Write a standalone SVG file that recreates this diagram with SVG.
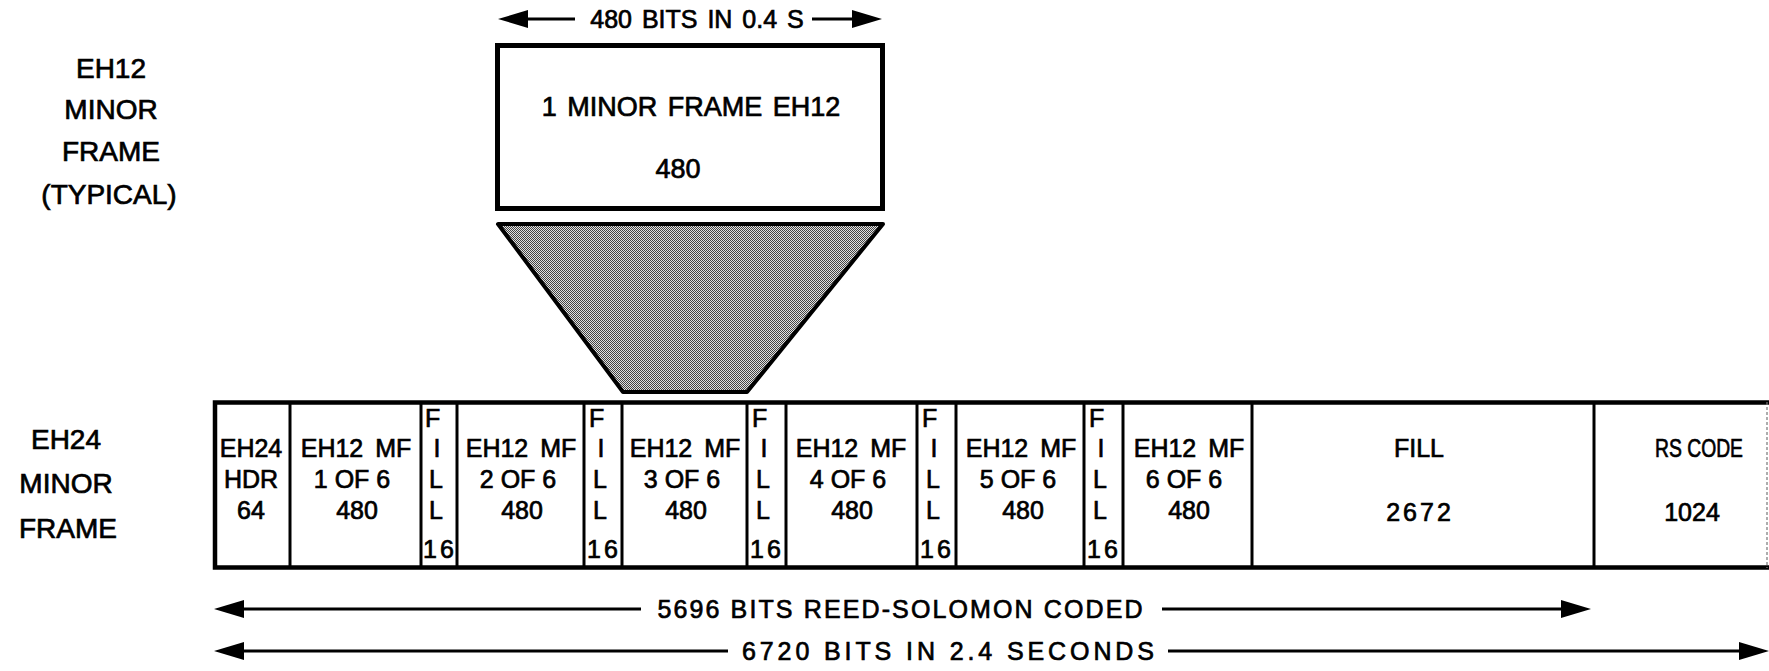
<svg xmlns="http://www.w3.org/2000/svg" width="1769" height="671" viewBox="0 0 1769 671">
<style>
text{font-family:"Liberation Sans",Arial,Helvetica,sans-serif;fill:#000;stroke:#000;stroke-width:0.7}
.c{font-size:25px;text-anchor:middle}
.s{font-size:25px;text-anchor:start}
.lbl{font-size:28px;text-anchor:middle}
.big{font-size:27px;text-anchor:middle}
.dim{font-size:25px;text-anchor:middle}
.mf{word-spacing:5px}
.div{stroke:#000;stroke-width:3;fill:none}
.frame{stroke:#000;stroke-width:4.5;fill:none}
.ln{stroke:#000;stroke-width:3;fill:none}
</style>
<defs>
<marker id="ah" viewBox="0 0 30 18" refX="6" refY="9" markerWidth="30" markerHeight="18" markerUnits="userSpaceOnUse" orient="auto-start-reverse">
<path d="M0,0 L30,9 L0,18 Z" fill="#000"/>
</marker>
<pattern id="dots" width="2" height="2" patternUnits="userSpaceOnUse">
<rect width="2" height="2" fill="#e2e2e2"/>
<rect x="0" y="0" width="1" height="1" fill="#454545"/>
<rect x="1" y="1" width="1" height="1" fill="#454545"/>
</pattern>
</defs>
<rect width="1769" height="671" fill="#fff"/>

<g id="labels">
<text class="lbl" x="111" y="78">EH12</text>
<text class="lbl" x="111" y="119">MINOR</text>
<text class="lbl" x="111" y="161">FRAME</text>
<text class="lbl" x="109" y="204">(TYPICAL)</text>
<text class="lbl" x="66" y="449">EH24</text>
<text class="lbl" x="66" y="493">MINOR</text>
<text class="lbl" x="68" y="538">FRAME</text>
</g>

<g id="eh12-minor-frame">
<rect x="497.5" y="45.5" width="385" height="163" fill="#fff" stroke="#000" stroke-width="5"/>
<text class="big" x="691" y="116" word-spacing="3">1 MINOR FRAME EH12</text>
<text class="big" x="678" y="178">480</text>
</g>

<g id="expansion">
<polygon points="498,224 883,224 747,392 623,392" fill="url(#dots)" stroke="#000" stroke-width="4" stroke-linejoin="round"/>
</g>

<g id="eh24-minor-frame">
<path class="frame" d="M1769,402.5 H215 V567.5 H1769"/>
<line x1="1767" y1="402" x2="1767" y2="568" stroke="#777" stroke-width="1.2" stroke-dasharray="3 2"/>
<g id="cell-hdr">
<line class="div" x1="290" y1="402" x2="290" y2="567"/>
<text class="c" x="251" y="457">EH24</text>
<text class="c" x="251" y="488">HDR</text>
<text class="c" x="251" y="519">64</text>
</g>
<g id="cell-mf1">
<line class="div" x1="421" y1="402" x2="421" y2="567"/>
<text class="c mf" x="356" y="457">EH12 MF</text>
<text class="c" x="352" y="488">1 OF 6</text>
<text class="c" x="357" y="519">480</text>
</g>
<g id="cell-fill1">
<line class="div" x1="457" y1="402" x2="457" y2="567"/>
<text class="s" x="425" y="427">F</text>
<text class="c" x="437" y="457">I</text>
<text class="s" x="429" y="488">L</text>
<text class="s" x="429" y="519">L</text>
<text class="s" x="423" y="558" letter-spacing="3">16</text>
</g>
<g id="cell-mf2">
<line class="div" x1="584" y1="402" x2="584" y2="567"/>
<text class="c mf" x="521" y="457">EH12 MF</text>
<text class="c" x="518" y="488">2 OF 6</text>
<text class="c" x="522" y="519">480</text>
</g>
<g id="cell-fill2">
<line class="div" x1="622" y1="402" x2="622" y2="567"/>
<text class="s" x="589" y="427">F</text>
<text class="c" x="601" y="457">I</text>
<text class="s" x="593" y="488">L</text>
<text class="s" x="593" y="519">L</text>
<text class="s" x="587" y="558" letter-spacing="3">16</text>
</g>
<g id="cell-mf3">
<line class="div" x1="747" y1="402" x2="747" y2="567"/>
<text class="c mf" x="685" y="457">EH12 MF</text>
<text class="c" x="682" y="488">3 OF 6</text>
<text class="c" x="686" y="519">480</text>
</g>
<g id="cell-fill3">
<line class="div" x1="786" y1="402" x2="786" y2="567"/>
<text class="s" x="752" y="427">F</text>
<text class="c" x="764" y="457">I</text>
<text class="s" x="756" y="488">L</text>
<text class="s" x="756" y="519">L</text>
<text class="s" x="750" y="558" letter-spacing="3">16</text>
</g>
<g id="cell-mf4">
<line class="div" x1="917" y1="402" x2="917" y2="567"/>
<text class="c mf" x="851" y="457">EH12 MF</text>
<text class="c" x="848" y="488">4 OF 6</text>
<text class="c" x="852" y="519">480</text>
</g>
<g id="cell-fill4">
<line class="div" x1="956" y1="402" x2="956" y2="567"/>
<text class="s" x="922" y="427">F</text>
<text class="c" x="934" y="457">I</text>
<text class="s" x="926" y="488">L</text>
<text class="s" x="926" y="519">L</text>
<text class="s" x="920" y="558" letter-spacing="3">16</text>
</g>
<g id="cell-mf5">
<line class="div" x1="1084" y1="402" x2="1084" y2="567"/>
<text class="c mf" x="1021" y="457">EH12 MF</text>
<text class="c" x="1018" y="488">5 OF 6</text>
<text class="c" x="1023" y="519">480</text>
</g>
<g id="cell-fill5">
<line class="div" x1="1123" y1="402" x2="1123" y2="567"/>
<text class="s" x="1089" y="427">F</text>
<text class="c" x="1101" y="457">I</text>
<text class="s" x="1093" y="488">L</text>
<text class="s" x="1093" y="519">L</text>
<text class="s" x="1087" y="558" letter-spacing="3">16</text>
</g>
<g id="cell-mf6">
<line class="div" x1="1252" y1="402" x2="1252" y2="567"/>
<text class="c mf" x="1189" y="457">EH12 MF</text>
<text class="c" x="1184" y="488">6 OF 6</text>
<text class="c" x="1189" y="519">480</text>
</g>
<g id="cell-fill">
<line class="div" x1="1594" y1="402" x2="1594" y2="567"/>
<text class="c" x="1419" y="457">FILL</text>
<text class="c" x="1420" y="521" letter-spacing="3">2672</text>
</g>
<g id="cell-rs">
<text class="c" x="1699" y="457" textLength="88" lengthAdjust="spacingAndGlyphs">RS CODE</text>
<text class="c" x="1692" y="521">1024</text>
</g>
</g>

<g id="connectors">
<line class="ln" x1="522" y1="19" x2="575" y2="19" marker-start="url(#ah)"/>
<line class="ln" x1="812" y1="19" x2="858" y2="19" marker-end="url(#ah)"/>
<text class="dim" x="697" y="28" word-spacing="3">480 BITS IN 0.4 S</text>

<line class="ln" x1="238" y1="609" x2="641" y2="609" marker-start="url(#ah)"/>
<line class="ln" x1="1162" y1="609" x2="1567" y2="609" marker-end="url(#ah)"/>
<text class="dim" x="900" y="618" textLength="485">5696 BITS REED-SOLOMON CODED</text>

<line class="ln" x1="238" y1="651" x2="728" y2="651" marker-start="url(#ah)"/>
<line class="ln" x1="1168" y1="651" x2="1745" y2="651" marker-end="url(#ah)"/>
<text class="dim" x="948" y="660" textLength="412">6720 BITS IN 2.4 SECONDS</text>
</g>
</svg>
